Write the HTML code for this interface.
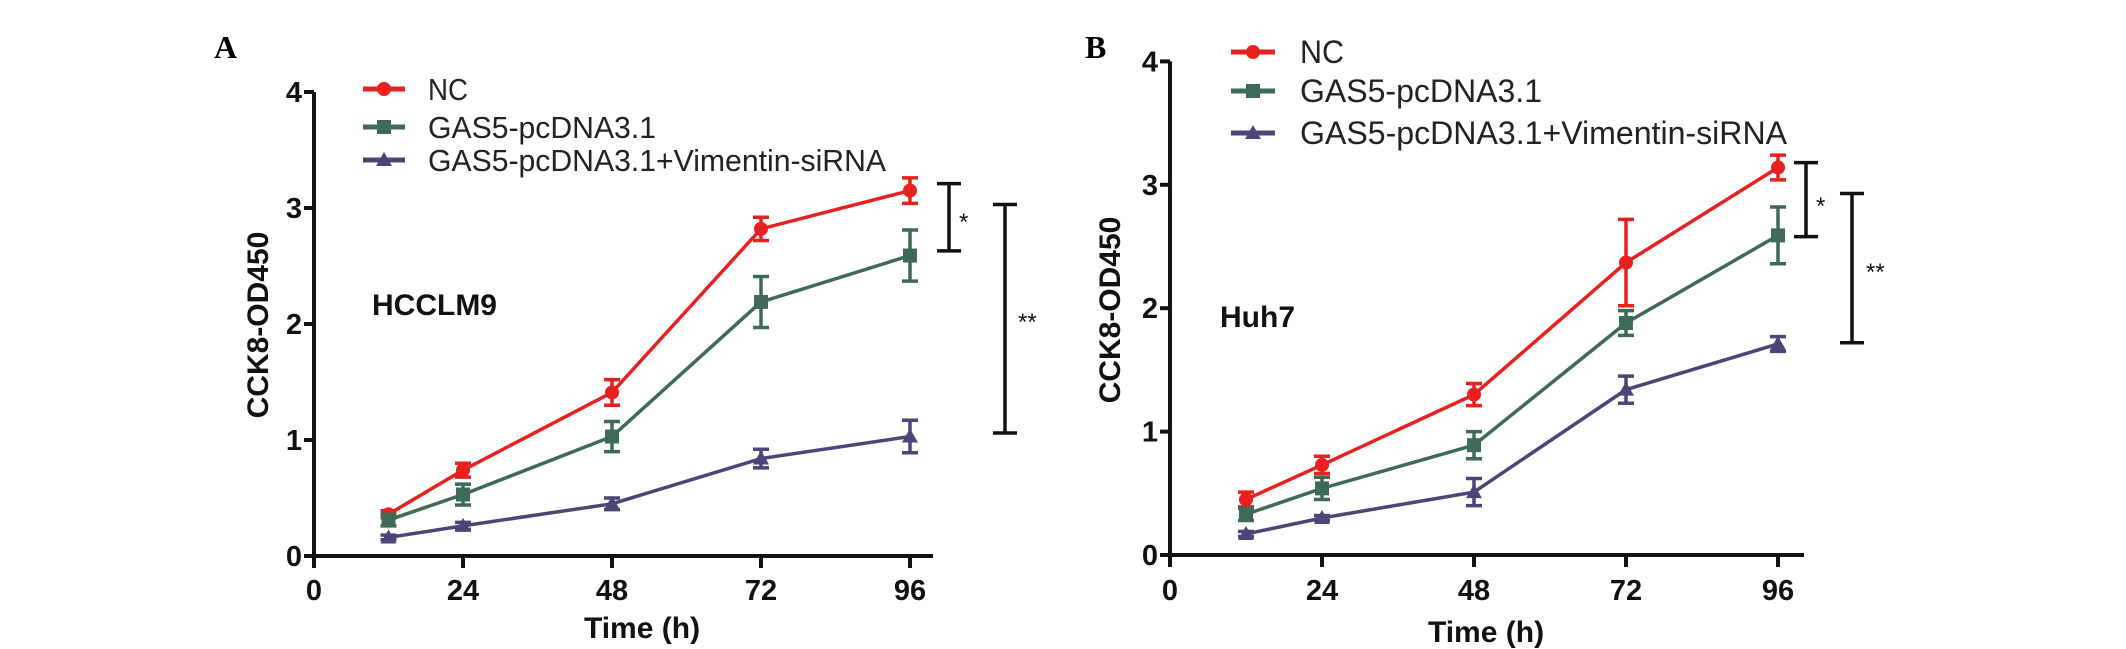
<!DOCTYPE html>
<html><head><meta charset="utf-8"><style>
html,body{margin:0;padding:0;background:#fff;}
svg{display:block;}
text{font-family:"Liberation Sans",Arial,sans-serif;}
</style></head><body>
<svg id="fig" width="2126" height="649" viewBox="0 0 2126 649" xmlns="http://www.w3.org/2000/svg"></svg>
<script>
// ---- Data ----
const timesH = [12, 24, 48, 72, 96];
const xTickLabels = [0, 24, 48, 72, 96];
const yTickLabels = [0, 1, 2, 3, 4];
const seriesNames = ["NC", "GAS5-pcDNA3.1", "GAS5-pcDNA3.1+Vimentin-siRNA"];
// Panel A (HCCLM9)
const aNC = [0.36, 0.74, 1.41, 2.82, 3.15];
const aNCErr = [0.03, 0.06, 0.11, 0.10, 0.11];
const aGAS = [0.31, 0.53, 1.03, 2.19, 2.59];
const aGASErr = [0.05, 0.09, 0.13, 0.22, 0.22];
const aVIM = [0.16, 0.26, 0.45, 0.84, 1.03];
const aVIMErr = [0.02, 0.03, 0.05, 0.08, 0.14];
const aSig1 = [2.63, 3.21];
const aSig2 = [1.06, 3.03];
// Panel B (Huh7)
const bNC = [0.45, 0.73, 1.30, 2.37, 3.14];
const bNCErr = [0.06, 0.07, 0.09, 0.35, 0.10];
const bGAS = [0.33, 0.54, 0.89, 1.88, 2.59];
const bGASErr = [0.05, 0.09, 0.11, 0.10, 0.23];
const bVIM = [0.17, 0.30, 0.51, 1.34, 1.71];
const bVIMErr = [0.02, 0.02, 0.11, 0.11, 0.06];
const bSig1 = [2.58, 3.18];
const bSig2 = [1.72, 2.93];

const NS = "http://www.w3.org/2000/svg";
const svg = document.getElementById("fig");
const colors = ["#e8201f", "#3e6a56", "#4b4678"];
const markers = ["circle", "square", "triangle"];

function mk(tag, attrs, parent) {
  const e = document.createElementNS(NS, tag);
  for (const k in attrs) e.setAttribute(k, attrs[k]);
  (parent || svg).appendChild(e);
  return e;
}

function panel(cfg) {
  const g = mk("g", {});
  
  
  const X = t => cfg.x0 + t * cfg.pxPerH;
  const Y = v => cfg.y0 - v * cfg.pxPerU;
  // axes
  const ax = mk("path", {d: `M${cfg.x0},${Y(4)} L${cfg.x0},${cfg.y0} L${cfg.xEnd},${cfg.y0}`, stroke: "#111", "stroke-width": 4, fill: "none"}, g);
  
  
  yTickLabels.forEach(v => {
    mk("line", {x1: cfg.x0 - 10, x2: cfg.x0, y1: Y(v), y2: Y(v), stroke: "#111", "stroke-width": 4}, g);
    const t = mk("text", {x: cfg.x0 - 12, y: Y(v) + 10, "text-anchor": "end", "font-size": 29, "font-weight": "bold", fill: "#111"}, g);
    t.textContent = v;
    
    
  });
  xTickLabels.forEach(v => {
    mk("line", {x1: X(v), x2: X(v), y1: cfg.y0, y2: cfg.y0 + 12, stroke: "#111", "stroke-width": 4}, g);
    const t = mk("text", {x: X(v), y: 600, "text-anchor": "middle", "font-size": 29, "font-weight": "bold", fill: "#111"}, g);
    t.textContent = v;
    
    
  });
  const xt = mk("text", {x: cfg.xTitleX, y: cfg.xTitleY, "text-anchor": "middle", "font-size": 30, "font-weight": "bold", fill: "#111"}, g);
  xt.textContent = "Time (h)";
  
  
  const yt = mk("text", {x: 0, y: 0, "text-anchor": "middle", "font-size": 30, "font-weight": "bold", fill: "#111", transform: `translate(${cfg.yTitleX},${cfg.yTitleY}) rotate(-90)`}, g);
  yt.textContent = "CCK8-OD450";
  
  
  const cl = mk("text", {x: cfg.cellX, y: cfg.cellY, "font-size": 30, "font-weight": "bold", fill: "#111"}, g);
  cl.textContent = cfg.cell;
  
  
  const pl = mk("text", {x: cfg.letterX, y: cfg.letterY, "font-size": 32, "font-weight": "bold", fill: "#000", style: "font-family:'Liberation Serif',serif"}, g);
  pl.textContent = cfg.letter;
  
  

  function marker(type, cx, cy, col, parent) {
    let m;
    if (type === "circle") m = mk("circle", {cx: cx, cy: cy, r: 7, fill: col}, parent);
    else if (type === "square") m = mk("rect", {x: cx - 7, y: cy - 7, width: 14, height: 14, fill: col}, parent);
    else m = mk("polygon", {points: `${cx},${cy - 8} ${cx - 8},${cy + 6} ${cx + 8},${cy + 6}`, fill: col}, parent);
    return m;
  }

  cfg.series.forEach((s, i) => {
    const sg = mk("g", {}, g);
    
    
    const d = s.vals.map((v, j) => (j ? "L" : "M") + X(timesH[j]) + "," + Y(v)).join(" ");
    mk("path", {d: d, stroke: colors[i], "stroke-width": 3.5, fill: "none"}, sg);
    s.vals.forEach((v, j) => {
      const x = X(timesH[j]), e = s.err[j];
      const eb = mk("path", {d: `M${x},${Y(v + e)} L${x},${Y(v - e)} M${x - 8},${Y(v + e)} L${x + 8},${Y(v + e)} M${x - 8},${Y(v - e)} L${x + 8},${Y(v - e)}`, stroke: colors[i], "stroke-width": 3.5, fill: "none"}, sg);
      
      
      const m = marker(markers[i], x, Y(v), colors[i], sg);
      
      
    });
  });

  // legend
  seriesNames.forEach((n, i) => {
    const lg = mk("g", {}, g);
    
    
    const ly = cfg.legY[i];
    mk("line", {x1: cfg.legX1, x2: cfg.legX2, y1: ly, y2: ly, stroke: colors[i], "stroke-width": 5}, lg);
    marker(markers[i], (cfg.legX1 + cfg.legX2) / 2, ly, colors[i], lg);
    const t = mk("text", {x: cfg.legTX, y: ly + 11, "font-size": cfg.legFS, fill: "#222", textLength: cfg.legW[i], lengthAdjust: "spacingAndGlyphs"}, lg);
    t.textContent = n;
  });

  // significance brackets
  [[cfg.sig1, cfg.sig1X, "*", cfg.star1], [cfg.sig2, cfg.sig2X, "**", cfg.star2]].forEach(([r, x, lab, st]) => {
    const bg = mk("g", {}, g);
    
    
    mk("path", {d: `M${x},${Y(r[1])} L${x},${Y(r[0])} M${x - 12},${Y(r[1])} L${x + 12},${Y(r[1])} M${x - 12},${Y(r[0])} L${x + 12},${Y(r[0])}`, stroke: "#111", "stroke-width": 3.5, fill: "none"}, bg);
    const t = mk("text", {x: st[0], y: st[1], "font-size": 24, fill: "#111"}, bg);
    t.textContent = lab;
  });
}

panel({
  name: "panel-a-hcclm9", x0: 314, y0: 556, pxPerH: 149 / 24, pxPerU: 116, xEnd: 933,
  xTitleX: 642, xTitleY: 638, yTitleX: 268, yTitleY: 325,
  cell: "HCCLM9", cellX: 372, cellY: 315, letter: "A", letterX: 214, letterY: 58,
  series: [{vals: aNC, err: aNCErr}, {vals: aGAS, err: aGASErr}, {vals: aVIM, err: aVIMErr}],
  legY: [89, 127, 160], legX1: 363, legX2: 405, legTX: 428, legFS: 31, legW: [40, 228, 458],
  sig1: aSig1, sig1X: 949, star1: [959, 230], sig2: aSig2, sig2X: 1005, star2: [1018, 330]
});
panel({
  name: "panel-b-huh7", x0: 1170, y0: 555, pxPerH: 152 / 24, pxPerU: 123.4, xEnd: 1804,
  xTitleX: 1486, xTitleY: 642, yTitleX: 1120, yTitleY: 310,
  cell: "Huh7", cellX: 1220, cellY: 327, letter: "B", letterX: 1085, letterY: 58,
  series: [{vals: bNC, err: bNCErr}, {vals: bGAS, err: bGASErr}, {vals: bVIM, err: bVIMErr}],
  legY: [52, 91, 133], legX1: 1231, legX2: 1275, legTX: 1300, legFS: 32, legW: [44, 242, 487],
  sig1: bSig1, sig1X: 1806, star1: [1816, 214], sig2: bSig2, sig2X: 1852, star2: [1866, 280]
});
</script>
</body></html>
